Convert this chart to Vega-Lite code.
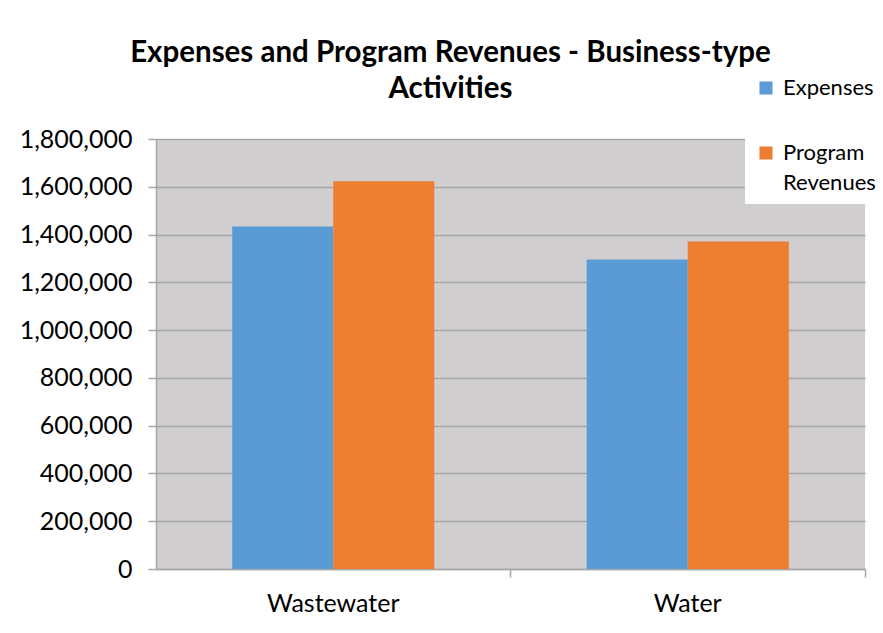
{
  "$schema": "https://vega.github.io/schema/vega-lite/v6.json",
  "autosize": {"type": "none"},
  "width": 709,
  "height": 430,
  "padding": {"left": 156, "top": 139, "right": 18, "bottom": 64},
  "background": "white",
  "title": {
    "text": ["Expenses and Program Revenues - Business-type", "Activities"],
    "font": "Lato",
    "fontWeight": "bold",
    "fontSize": 29.5,
    "lineHeight": 36,
    "color": "#000000",
    "anchor": "middle",
    "dx": -60,
    "offset": -37
  },
  "data": {
    "values": [
      {"category": "Wastewater", "series": "Expenses", "value": 1434000},
      {"category": "Wastewater", "series": "Program Revenues", "value": 1623000},
      {"category": "Water", "series": "Expenses", "value": 1296000},
      {"category": "Water", "series": "Program Revenues", "value": 1371000}
    ]
  },
  "mark": {"type": "bar"},
  "encoding": {
    "x": {
      "field": "category",
      "type": "nominal",
      "sort": ["Wastewater", "Water"],
      "scale": {"paddingInner": 0.43, "paddingOuter": 0.215},
      "axis": {
        "title": null,
        "labelAngle": 0,
        "labelFont": "Lato",
        "labelFontSize": 25,
        "labelColor": "#000000",
        "labelPadding": 14,
        "bandPosition": 1.3775,
        "tickSize": 8,
        "tickColor": "#a6a6a6",
        "tickWidth": 1.5,
        "domainColor": "#a6a6a6",
        "domainWidth": 1.5
      }
    },
    "xOffset": {"field": "series", "type": "nominal", "sort": ["Expenses", "Program Revenues"]},
    "y": {
      "field": "value",
      "type": "quantitative",
      "scale": {"domain": [0, 1800000], "nice": false},
      "axis": {
        "title": null,
        "values": [0, 200000, 400000, 600000, 800000, 1000000, 1200000, 1400000, 1600000, 1800000],
        "format": ",.0f",
        "labelFont": "Lato",
        "labelFontSize": 25,
        "labelColor": "#000000",
        "labelPadding": 16,
        "tickSize": 8,
        "tickColor": "#a6a6a6",
        "tickWidth": 1.5,
        "domainColor": "#a6a6a6",
        "domainWidth": 1.5,
        "gridColor": "#a6a6a6",
        "gridWidth": 1.5
      }
    },
    "color": {
      "field": "series",
      "type": "nominal",
      "sort": ["Expenses", "Program Revenues"],
      "scale": {"domain": ["Expenses", "Program Revenues"], "range": ["#5b9bd5", "#ed7d31"]},
      "legend": {
        "title": null,
        "orient": "none",
        "legendX": 589,
        "legendY": -72,
        "fillColor": "white",
        "padding": 10,
        "symbolType": "square",
        "symbolSize": 170,
        "symbolStrokeWidth": 0,
        "labelFont": "Lato",
        "labelFontSize": 22,
        "labelColor": "#000000",
        "labelOffset": 6,
        "rowPadding": 43,
        "labelLimit": 200,
        "labelExpr": "datum.label == 'Program Revenues' ? ['Program', 'Revenues'] : datum.label"
      }
    }
  },
  "config": {
    "view": {"fill": "#d0cece", "stroke": null},
    "style": {"guide-label": {"lineHeight": 30}}
  }
}
